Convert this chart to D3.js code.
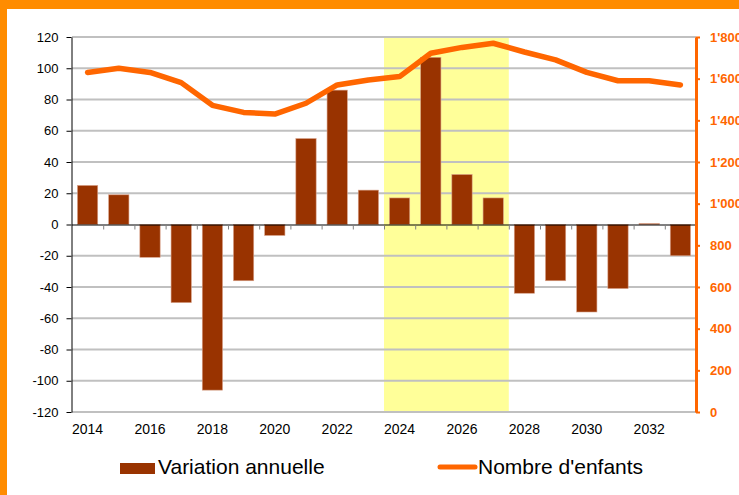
<!doctype html>
<html>
<head>
<meta charset="utf-8">
<script src="https://d3js.org/d3.v7.min.js"></script>
<style>
  body { margin: 0; background: #fff; }
  svg { display: block; font-family: "Liberation Sans", Arial, sans-serif; }
</style>
</head>
<body>
<svg id="chart" width="739" height="495"></svg>
<script>
// data
var years = d3.range(2014, 2034);
var variation = [25, 19, -21, -50, -106, -36, -7, 55, 86, 22, 17, 107, 32, 17, -44, -36, -56, -41, 0.6, -20];
var enfants = [1630, 1650, 1630, 1581, 1472, 1438, 1430, 1482, 1570, 1594, 1610, 1722, 1750, 1770, 1728, 1690, 1630, 1590, 1590, 1570];
var leftTicks = d3.range(-120, 121, 20);
var rightTicks = d3.range(0, 1801, 200);
var yearLabels = d3.range(2014, 2034, 2);
var highlight = [2024, 2027];

var svg = d3.select("#chart");
var plotL = 72, plotR = 696, plotT = 37, plotB = 412;

// orange frame
svg.append("rect").attr("x", 0).attr("y", 0).attr("width", 739).attr("height", 9).attr("fill", "#ff8c00");
svg.append("rect").attr("x", 0).attr("y", 0).attr("width", 7).attr("height", 495).attr("fill", "#ff8c00");

var x = d3.scaleBand().domain(years).range([plotL, plotR]).padding(0);
var y = d3.scaleLinear().domain([-120, 120]).range([plotB, plotT]);
var yR = d3.scaleLinear().domain([0, 1800]).range([plotB, plotT]);

// yellow period
svg.append("rect")
   .attr("x", x(highlight[0]))
   .attr("y", plotT)
   .attr("width", x(highlight[1]) + x.bandwidth() - x(highlight[0]))
   .attr("height", plotB - plotT)
   .attr("fill", "#ffff99");

// gridlines
svg.append("g").selectAll("line")
   .data(leftTicks.filter(function(d) { return d !== 0; }))
   .enter().append("line")
   .attr("x1", plotL).attr("x2", plotR)
   .attr("y1", function(d) { return y(d); })
   .attr("y2", function(d) { return y(d); })
   .attr("stroke", "#c0c0c0")
   .attr("stroke-width", 2);

// bars
var bw = x.bandwidth() * 0.65;
svg.append("g").selectAll("rect")
   .data(years)
   .enter().append("rect")
   .attr("x", function(d) { return x(d) + (x.bandwidth() - bw) / 2; })
   .attr("y", function(d, i) { return y(Math.max(0, variation[i])); })
   .attr("width", bw)
   .attr("height", function(d, i) { return Math.abs(y(variation[i]) - y(0)); })
   .attr("fill", "#993300")
   .attr("stroke", "#d8a088")
   .attr("stroke-width", 0.6);

// zero line and category ticks
svg.append("line")
   .attr("x1", plotL).attr("x2", plotR)
   .attr("y1", y(0) + 0.5).attr("y2", y(0) + 0.5)
   .attr("stroke", "#000").attr("stroke-width", 1);
svg.append("g").selectAll("line")
   .data(years.slice(1))
   .enter().append("line")
   .attr("x1", function(d) { return x(d) + 0.5; })
   .attr("x2", function(d) { return x(d) + 0.5; })
   .attr("y1", y(0) + 1).attr("y2", y(0) + 5)
   .attr("stroke", "#808080");

// line series
var line = d3.line()
   .x(function(d, i) { return x(years[i]) + x.bandwidth() / 2; })
   .y(function(d) { return yR(d); });
svg.append("path")
   .datum(enfants)
   .attr("d", line)
   .attr("fill", "none")
   .attr("stroke", "#ff6600")
   .attr("stroke-width", 5.5)
   .attr("stroke-linejoin", "round")
   .attr("stroke-linecap", "round");

// left axis
var gl = svg.append("g")
   .attr("transform", "translate(" + (plotL - 0.5) + ",0)")
   .call(d3.axisLeft(y).tickValues(leftTicks).tickFormat(function(d) { return String(d); })
      .tickSize(5).tickSizeOuter(0).tickPadding(8));
gl.select(".domain").attr("stroke", "#000");
gl.selectAll(".tick line").attr("stroke", "#000");
gl.selectAll(".tick text").attr("font-size", "13px").attr("fill", "#000")
   .attr("font-family", "'Liberation Sans', Arial, sans-serif");

// right axis
var fmt = function(d) { return d3.format(",")(d).replace(/,/g, "'"); };
var gr = svg.append("g")
   .attr("transform", "translate(" + plotR + ",0)")
   .call(d3.axisRight(yR).tickValues(rightTicks).tickFormat(fmt).tickSize(4).tickSizeOuter(0).tickPadding(10));
gr.select(".domain").attr("stroke", "#ff6600").attr("stroke-width", 3);
gr.selectAll(".tick line").attr("stroke", "#ff6600").attr("stroke-width", 2);
gr.selectAll(".tick text").attr("font-size", "13px").attr("font-weight", "bold").attr("fill", "#ff6600")
   .attr("font-family", "'Liberation Sans', Arial, sans-serif");

// year labels
svg.append("g").selectAll("text")
   .data(yearLabels)
   .enter().append("text")
   .attr("x", function(d) { return x(d) + x.bandwidth() / 2; })
   .attr("y", 434)
   .attr("text-anchor", "middle")
   .attr("font-size", "14px")
   .text(function(d) { return d; });

// legend
svg.append("rect").attr("x", 120).attr("y", 463).attr("width", 35).attr("height", 11).attr("fill", "#993300");
svg.append("text").attr("x", 158).attr("y", 474).attr("font-size", "21px").text("Variation annuelle");
svg.append("line").attr("x1", 440).attr("x2", 475).attr("y1", 467).attr("y2", 467)
   .attr("stroke", "#ff6600").attr("stroke-width", 5).attr("stroke-linecap", "round");
svg.append("text").attr("x", 478).attr("y", 474).attr("font-size", "21px").text("Nombre d'enfants");
</script>
</body>
</html>
